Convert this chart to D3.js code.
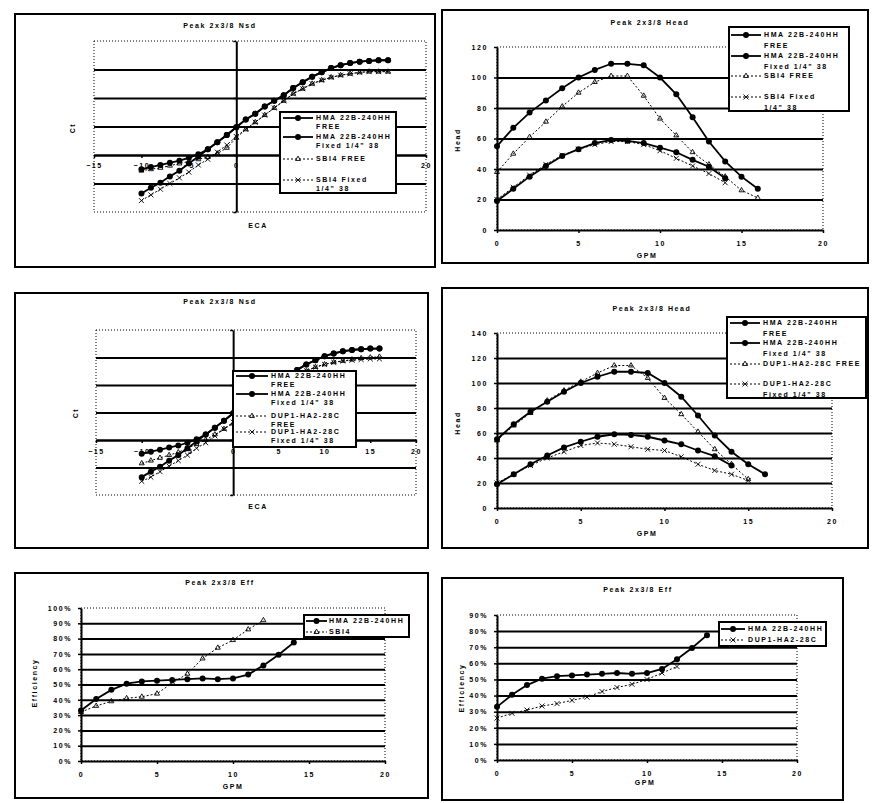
<!DOCTYPE html>
<html>
<head>
<meta charset="utf-8">
<script src="https://cdn.jsdelivr.net/npm/d3@7"></script>
<style>
body { margin: 0; background: #fff; }
text { font-family: "Liberation Sans", Arial, sans-serif; font-size: 7px; font-weight: bold; letter-spacing: 1.6px; fill: #000; }
</style>
</head>
<body>
<svg id="chart" width="875" height="803"></svg>
<script>
const ecaX = [-10,-9,-8,-7,-6,-5,-4,-3,-2,-1,0,1,2,3,4,5,6,7,8,9,10,11,12,13,14,15,16];
const hmaFreeCt  = [-10,-8.5,-7,-5.5,-4,-2,0.5,4,9,14,19.5,25,29,34,38,42,47,51,55,58,61,63,64.5,65.5,66,66.5,66.5];
const hmaFixedCt = [-27,-23,-19.5,-15,-11,-6,-1,4,9,14,19.5,25,29,34,38,42,47,51,55,58,61,63,64.5,65.5,66,66.5,66.5];
const sbiFreeCt  = [-11,-10,-9,-7.5,-6,-4.5,-3,-1.5,1,5,12,18,23,28,33,38,43,46.5,50,52.5,54.5,56,57,58,58.5,58.5,58.5];
const sbiFixedCt = [-32,-28,-24,-20,-16,-12,-7,-3,2,7,13,18,23,28,33,38,43,46.5,50,52.5,54.5,56,57,58,58.5,58.5,58.5];
const dupFreeCt  = [-17,-15,-13,-11,-9,-6,-3,0,4,8,12,17,22,27,32,37,42,46,50,53,55,56.5,57.5,58.5,59.5,60,60.5];
const dupFixedCt = [-30,-27,-23,-19,-15,-11,-6,-2,3,8,13,18,23,28,33,38,43,47,50.5,53,55,56.5,57.5,58,58.5,59,59];

const gpm = [0,1,2,3,4,5,6,7,8,9,10,11,12,13,14,15,16];
const hmaFreeHead  = [55,67,77,85,93,100,105,109,109,108,100,89,74,58,45,35,27];
const hmaFixedHead = [19,27,35,42,48.5,53,57,59,58.5,57,54,51,46,41.5,34];
const sbiFreeHead  = [38,50,61,71,81,90,97,101,101,88,73,62,51,43,35,26,21];
const sbiFixedHead = [20,28,36,43,49,53,56,58,58,56,52,47,42,37,31];
const dupFreeHead  = [54,66,76,86,94,101,108,114,114,104,88,75,61,47,35,23];
const dupFixedHead = [20,27,34,40,45,50,52,51,49,47,46,41,35,30,27,22];

const hmaEff = [33,40.5,46.5,50.5,52,52.5,53,53.5,54,53.5,54,56.5,62.5,69.5,77.5];
const sbiEff = [32,36,39,41,42,44,51,57,67,74,79,86,92];
const dupEff = [26,29,31,33.5,35,37,39,42.5,45,47,50,54,58];

// ticks
const ecaTicks = [-15,-10,-5,0,5,10,15,20];
const ctTicks = [-40,-20,0,20,40,60,80];
const ctGrid = [-20,0,20,40,60];
const gpmTicks = [0,5,10,15,20];
const headTicksA = [0,20,40,60,80,100,120];
const headGridA = [20,40,60,80,100];
const headTicksB = [0,20,40,60,80,100,120,140];
const headGridB = [20,40,60,80,100,120];
const effTicksA = [0,10,20,30,40,50,60,70,80,90,100];
const effGridA = [10,20,30,40,50,60,70,80,90];
const effTicksB = [0,10,20,30,40,50,60,70,80,90];
const effGridB = [10,20,30,40,50,60,70,80];

const hmaName = "HMA 22B-240HH";
const sbiName = "SBI4";
const dupName = "DUP1-HA2-28C";

const svg = d3.select("#chart");
svg.append("rect").attr("width", 875).attr("height", 803).attr("fill", "#fff");

// line looks
const solid = {dash: null, w: 1.8, mark: "circle"};
const dotA = {dash: "2,2", w: 1, mark: "tri"};
const dotB = {dash: "2,2", w: 1, mark: "times"};

function marker(g, kind, cx, cy) {
  if (kind == "circle") {
    g.append("circle").attr("cx", cx).attr("cy", cy).attr("r", 3).attr("fill", "#000");
  } else {
    const sym = kind == "tri" ? d3.symbolTriangle2 : d3.symbolTimes;
    g.append("path").attr("d", d3.symbol(sym, 18)())
      .attr("transform", `translate(${cx},${cy})`)
      .attr("fill", "none").attr("stroke", "#000").attr("stroke-width", 0.9);
  }
}

function drawPanel(p) {
  const g = svg.append("g");
  const b = p.box, pl = p.plot;
  g.append("rect").attr("x", b[0]).attr("y", b[1]).attr("width", b[2]-b[0]).attr("height", b[3]-b[1])
    .attr("fill", "none").attr("stroke", "#000").attr("stroke-width", 2);
  g.append("text").attr("x", p.title[1]).attr("y", p.title[2]).attr("dy", "0.35em")
    .attr("text-anchor", "middle").text(p.title[0]);

  const x = d3.scaleLinear().domain(p.xDomain).range([pl.l, pl.r]);
  const y = d3.scaleLinear().domain(p.yDomain).range([pl.b, pl.t]);

  // plot area outline (dotted)
  g.append("rect").attr("x", pl.l).attr("y", pl.t).attr("width", pl.r-pl.l).attr("height", pl.b-pl.t)
    .attr("fill", "none").attr("stroke", "#000").attr("stroke-width", 1).attr("stroke-dasharray", "1,2");

  // gridlines
  const grid = g.append("g").attr("transform", `translate(${pl.l},0)`)
    .call(d3.axisLeft(y).tickValues(p.grid).tickSize(-(pl.r-pl.l)).tickFormat(""));
  grid.select(".domain").remove();
  grid.selectAll("line").attr("stroke-width", 2);

  // y axis
  const yAt = p.yAxisAt == null ? pl.l : x(p.yAxisAt);
  const ya = g.append("g").attr("transform", `translate(${yAt},0)`)
    .call(d3.axisLeft(y).tickValues(p.yTicks).tickSize(3).tickSizeOuter(0).tickPadding(p.yPad || 5)
      .tickFormat(p.yFmt || (() => "")));
  ya.select(".domain").attr("stroke-width", 2);
  ya.selectAll("line").attr("stroke-width", 1.5);

  // x axis
  const xAt = p.xAxisAt == null ? pl.b : y(p.xAxisAt);
  const xa = g.append("g").attr("transform", `translate(0,${xAt})`)
    .call(d3.axisBottom(x).tickValues(p.xTicks).tickSize(3).tickSizeOuter(0).tickPadding(p.xPad || 8)
      .tickFormat(d3.format("d")));
  xa.select(".domain").attr("stroke-width", 2);
  xa.selectAll("line").attr("stroke-width", 1.5);

  // axis titles
  g.append("text").attr("x", p.xLabel[1]).attr("y", p.xLabel[2]).attr("dy", "0.35em")
    .attr("text-anchor", "middle").text(p.xLabel[0]);
  g.append("text").attr("transform", `translate(${p.yLabel[1]},${p.yLabel[2]}) rotate(-90)`)
    .attr("dy", "0.35em").attr("text-anchor", "middle").text(p.yLabel[0]);

  // series
  const line = d3.line().x(d => x(d[0])).y(d => y(d[1]));
  p.series.forEach(s => {
    const pts = s.y.map((v, i) => [s.x[i], v]);
    g.append("path").datum(pts).attr("d", line).attr("fill", "none").attr("stroke", "#000")
      .attr("stroke-width", s.style.w).attr("stroke-dasharray", s.style.dash);
    const mg = g.append("g");
    pts.forEach(d => marker(mg, s.style.mark, x(d[0]), y(d[1])));
  });

  // legend
  const L = p.legend;
  g.append("rect").attr("x", L.box[0]).attr("y", L.box[1]).attr("width", L.box[2]-L.box[0]).attr("height", L.box[3]-L.box[1])
    .attr("fill", "#fff").attr("stroke", "#000").attr("stroke-width", 2);
  p.series.forEach((s, i) => {
    const ry = L.rows[i];
    g.append("line").attr("x1", L.sx[0]).attr("x2", L.sx[1]).attr("y1", ry).attr("y2", ry)
      .attr("stroke", "#000").attr("stroke-width", s.style.w).attr("stroke-dasharray", s.style.dash);
    marker(g, s.style.mark, (L.sx[0]+L.sx[1])/2, ry);
    s.label.forEach((t, j) => {
      g.append("text").attr("x", L.tx).attr("y", ry + j*L.lh).attr("dy", "0.35em").text(t);
    });
  });
}

const pct = d => d + "%";

drawPanel({
  box: [15,14,435,267], title: ["Peak 2x3/8 Nsd", 220, 26],
  plot: {l: 94, t: 41, r: 426, b: 212}, xDomain: [-15,20], yDomain: [-40,80],
  grid: ctGrid, yTicks: ctTicks, xTicks: ecaTicks, yAxisAt: 0, xAxisAt: 0, xPad: 5,
  xLabel: ["ECA", 258, 226], yLabel: ["Ct", 73, 128],
  series: [
    {x: ecaX, y: hmaFreeCt, style: solid, label: [hmaName, "FREE"]},
    {x: ecaX, y: hmaFixedCt, style: solid, label: [hmaName, "Fixed 1/4\" 38"]},
    {x: ecaX, y: sbiFreeCt, style: dotA, label: [sbiName + " FREE"]},
    {x: ecaX, y: sbiFixedCt, style: dotB, label: [sbiName + " Fixed", "1/4\" 38"]}
  ],
  legend: {box: [280,112,396,193], rows: [118,137,159,180], lh: 9, sx: [283,313], tx: 316}
});

drawPanel({
  box: [442,10,868,263], title: ["Peak 2x3/8 Head", 650, 23],
  plot: {l: 497, t: 47, r: 823, b: 230}, xDomain: [0,20], yDomain: [0,120],
  grid: headGridA, yTicks: headTicksA, xTicks: gpmTicks, yFmt: d3.format("d"), yPad: 6,
  xLabel: ["GPM", 647, 256], yLabel: ["Head", 458, 140],
  series: [
    {x: gpm, y: hmaFreeHead, style: solid, label: [hmaName, "FREE"]},
    {x: gpm, y: hmaFixedHead, style: solid, label: [hmaName, "Fixed 1/4\" 38"]},
    {x: gpm, y: sbiFreeHead, style: dotA, label: [sbiName + " FREE"]},
    {x: gpm, y: sbiFixedHead, style: dotB, label: [sbiName + " Fixed", "1/4\" 38"]}
  ],
  legend: {box: [729,27,849,111], rows: [35,56,76,97], lh: 11, sx: [731,761], tx: 764}
});

drawPanel({
  box: [15,293,428,548], title: ["Peak 2x3/8 Nsd", 220, 302],
  plot: {l: 96, t: 330, r: 416, b: 495}, xDomain: [-15,20], yDomain: [-40,80],
  grid: ctGrid, yTicks: ctTicks, xTicks: ecaTicks, yAxisAt: 0, xAxisAt: 0, xPad: 6,
  xLabel: ["ECA", 258, 507], yLabel: ["Ct", 76, 413],
  series: [
    {x: ecaX, y: hmaFreeCt, style: solid, label: [hmaName, "FREE"]},
    {x: ecaX, y: hmaFixedCt, style: solid, label: [hmaName, "Fixed 1/4\" 38"]},
    {x: ecaX, y: dupFreeCt, style: dotA, label: [dupName, "FREE"]},
    {x: ecaX, y: dupFixedCt, style: dotB, label: [dupName, "Fixed 1/4\" 38"]}
  ],
  legend: {box: [233,371,356,447], rows: [376,394,416,432], lh: 9, sx: [236,268], tx: 271}
});

drawPanel({
  box: [442,288,868,548], title: ["Peak 2x3/8 Head", 652, 309],
  plot: {l: 497, t: 333, r: 832, b: 508}, xDomain: [0,20], yDomain: [0,140],
  grid: headGridB, yTicks: headTicksB, xTicks: gpmTicks, yFmt: d3.format("d"), yPad: 6,
  xLabel: ["GPM", 647, 534], yLabel: ["Head", 458, 423],
  series: [
    {x: gpm, y: hmaFreeHead, style: solid, label: [hmaName, "FREE"]},
    {x: gpm, y: hmaFixedHead, style: solid, label: [hmaName, "Fixed 1/4\" 38"]},
    {x: gpm, y: dupFreeHead, style: dotA, label: [dupName + " FREE"]},
    {x: gpm, y: dupFixedHead, style: dotB, label: [dupName, "Fixed 1/4\" 38"]}
  ],
  legend: {box: [727,317,866,398], rows: [323,343,364,384], lh: 11, sx: [730,760], tx: 763}
});

drawPanel({
  box: [15,573,428,798], title: ["Peak 2x3/8 Eff", 220, 583],
  plot: {l: 81, t: 608, r: 385, b: 761}, xDomain: [0,20], yDomain: [0,100],
  grid: effGridA, yTicks: effTicksA, xTicks: gpmTicks, yFmt: pct, yPad: 6,
  xLabel: ["GPM", 233, 787], yLabel: ["Efficiency", 35, 683],
  series: [
    {x: gpm, y: hmaEff, style: solid, label: [hmaName]},
    {x: gpm, y: sbiEff, style: dotA, label: [sbiName]}
  ],
  legend: {box: [304,615,409,637], rows: [621,632], lh: 9, sx: [306,327], tx: 329}
});

drawPanel({
  box: [442,578,843,800], title: ["Peak 2x3/8 Eff", 638, 590],
  plot: {l: 497, t: 615, r: 797, b: 760}, xDomain: [0,20], yDomain: [0,90],
  grid: effGridB, yTicks: effTicksB, xTicks: gpmTicks, yFmt: pct, yPad: 6,
  xLabel: ["GPM", 645, 783], yLabel: ["Efficiency", 462, 688],
  series: [
    {x: gpm, y: hmaEff, style: solid, label: [hmaName]},
    {x: gpm, y: dupEff, style: dotB, label: [dupName]}
  ],
  legend: {box: [719,622,826,646], rows: [629,640], lh: 9, sx: [721,745], tx: 748}
});
</script>
</body>
</html>
